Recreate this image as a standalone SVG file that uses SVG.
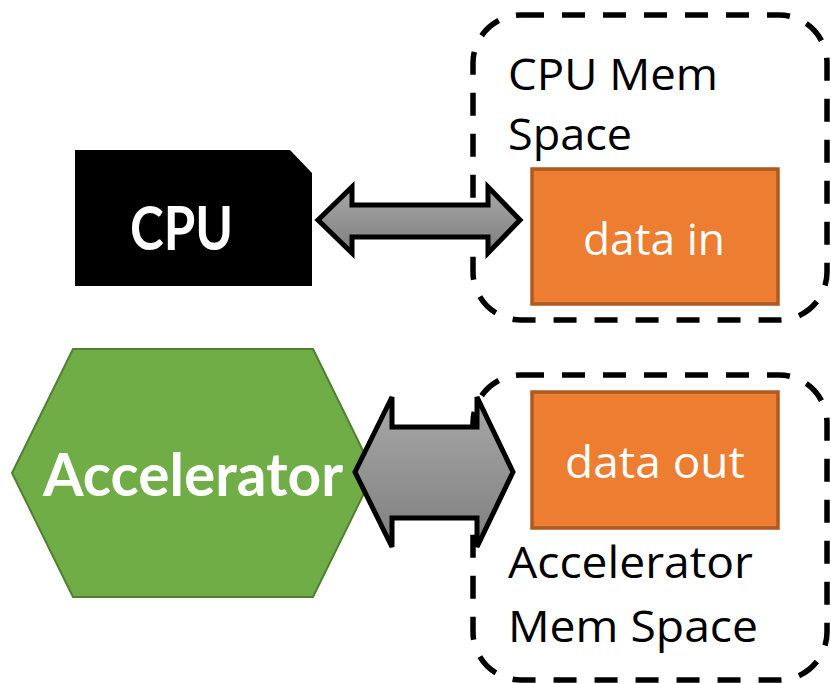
<svg xmlns="http://www.w3.org/2000/svg" width="831" height="684" viewBox="0 0 831 684">
  <defs>
    <linearGradient id="gray" x1="0" y1="0" x2="0" y2="1">
      <stop offset="0" stop-color="#a8a8a8"/>
      <stop offset="1" stop-color="#7f7f7f"/>
    </linearGradient>
    <style>
      .space { fill: none; stroke: #000; stroke-width: 5.5; stroke-dasharray: 23 18; }
      .data { fill: #ed7d31; stroke: #ae5a21; stroke-width: 3.5; }
      .bus { fill: url(#gray); stroke: #000; stroke-width: 5; stroke-linejoin: miter; }
      .lbl { font-family: "Open Sans", "Liberation Sans", sans-serif; font-size: 44px; fill: #000; }
      .lbl-w { font-family: "Open Sans", "Liberation Sans", sans-serif; font-size: 44px; fill: #fff; }
      .bold { font-family: Lato, "Liberation Sans", sans-serif; font-weight: bold; fill: #fff; }
    </style>
  </defs>

  <!-- memory spaces -->
  <g id="cpu-mem-space">
    <rect class="space" x="473" y="15" width="354" height="305" rx="48"/>
    <text class="lbl" x="508" y="90" textLength="210" lengthAdjust="spacingAndGlyphs">CPU Mem</text>
    <text class="lbl" x="508" y="150" textLength="124" lengthAdjust="spacingAndGlyphs">Space</text>
  </g>
  <g id="acc-mem-space">
    <rect class="space" x="473" y="375" width="354" height="305" rx="48"/>
    <text class="lbl" x="508" y="578" textLength="245" lengthAdjust="spacingAndGlyphs">Accelerator</text>
    <text class="lbl" x="508" y="642" textLength="250" lengthAdjust="spacingAndGlyphs">Mem Space</text>
  </g>

  <!-- buffers -->
  <g id="data-in">
    <rect class="data" x="532" y="169" width="246" height="135"/>
    <text class="lbl-w" x="583" y="255" textLength="142" lengthAdjust="spacingAndGlyphs">data in</text>
  </g>
  <g id="data-out">
    <rect class="data" x="532" y="392" width="246" height="136"/>
    <text class="lbl-w" x="565" y="478" textLength="180" lengthAdjust="spacingAndGlyphs">data out</text>
  </g>

  <!-- processors -->
  <g id="cpu">
    <polygon points="75,150 290,150 312,173 312,286 75,286" fill="#000"/>
    <text class="bold" x="130" y="250" font-size="62" textLength="103" lengthAdjust="spacingAndGlyphs">CPU</text>
  </g>
  <g id="accelerator">
    <polygon points="73,349 313,349 374,473 313,597 73,597 12,473" fill="#70ad47" stroke="#507e32" stroke-width="2"/>
    <text class="bold" x="43" y="496" font-size="59" textLength="300" lengthAdjust="spacingAndGlyphs">Accelerator</text>
  </g>

  <!-- connectors -->
  <g id="connectors">
    <polygon class="bus" points="318,220 352,187 352,205 488,205 488,187 520,220 488,253 488,237 352,237 352,253"/>
    <polygon class="bus" points="355,472 392,397 392,427 477,427 477,397 513,472 477,547 477,518 392,518 392,547"/>
  </g>
</svg>
